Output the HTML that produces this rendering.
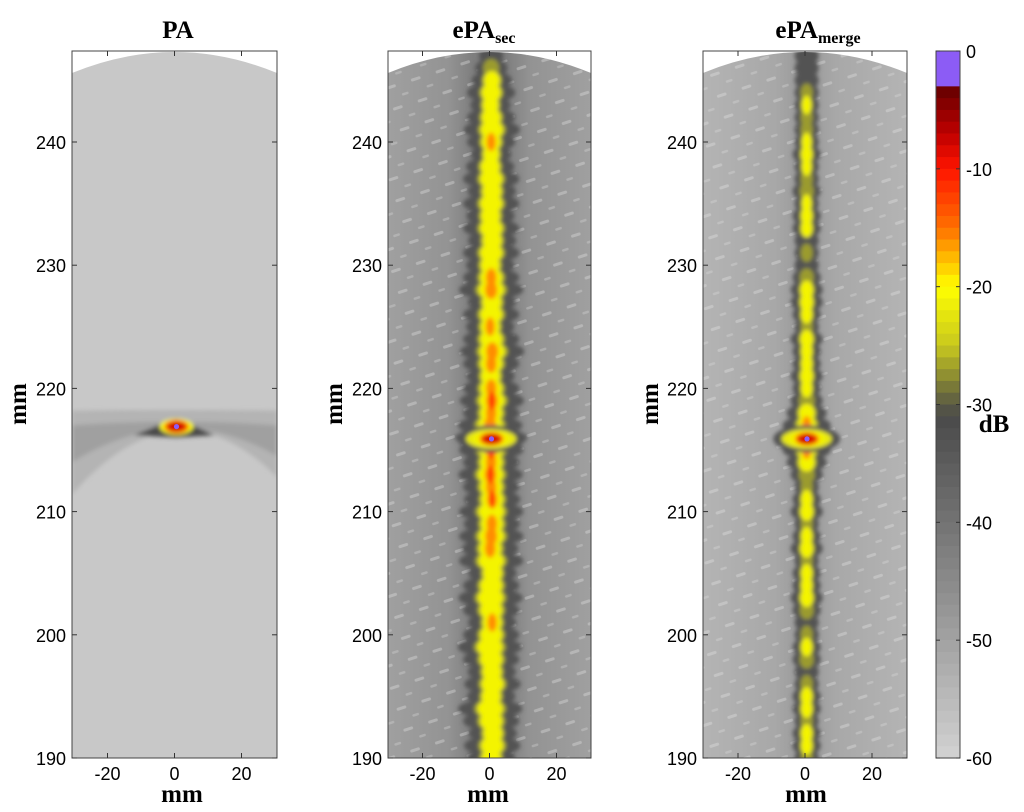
<!DOCTYPE html>
<html><head><meta charset="utf-8"><style>
html,body{margin:0;padding:0;background:#fff;}
svg{display:block;}
.tk{font-family:"Liberation Sans",sans-serif;font-size:18px;fill:#000;}
.ttl{font-family:"Liberation Serif",serif;font-weight:bold;font-size:25px;fill:#000;}
</style></head><body>
<svg id="fig" width="1024" height="812" viewBox="0 0 1024 812" xmlns="http://www.w3.org/2000/svg">
<defs>
<filter id="soft" x="-20%" y="-20%" width="140%" height="140%"><feGaussianBlur stdDeviation="2"/></filter>
<linearGradient id="bg2" x1="0" x2="1" y1="0" y2="0">
<stop offset="0" stop-color="#a0a0a0"/><stop offset="0.3" stop-color="#939393"/><stop offset="0.42" stop-color="#7e7e7e"/><stop offset="0.58" stop-color="#7e7e7e"/><stop offset="0.7" stop-color="#939393"/><stop offset="1" stop-color="#a0a0a0"/></linearGradient>
<linearGradient id="bg3" x1="0" x2="1" y1="0" y2="0">
<stop offset="0" stop-color="#b4b4b4"/><stop offset="0.35" stop-color="#a8a8a8"/><stop offset="0.5" stop-color="#989898"/><stop offset="0.65" stop-color="#a8a8a8"/><stop offset="1" stop-color="#b4b4b4"/></linearGradient>
<pattern id="streak" width="26" height="22" patternUnits="userSpaceOnUse" patternTransform="rotate(-18)">
<rect x="2" y="4" width="10" height="3" rx="1.5" fill="#e4e4e4" opacity="0.35"/>
<rect x="15" y="15" width="7" height="2.5" rx="1.2" fill="#e4e4e4" opacity="0.3"/>
</pattern>
</defs>
<g id="panels"></g>
<g id="cbar"></g>
<text class="ttl" x="178" y="38" text-anchor="middle">PA</text>
<text class="ttl" x="484" y="38" text-anchor="middle">ePA<tspan font-size="16" dy="5">sec</tspan></text>
<text class="ttl" x="818" y="38" text-anchor="middle">ePA<tspan font-size="16" dy="5">merge</tspan></text>
<text class="ttl" x="182" y="802" text-anchor="middle" font-size="27">mm</text>
<text class="ttl" x="488" y="802" text-anchor="middle" font-size="27">mm</text>
<text class="ttl" x="806" y="802" text-anchor="middle" font-size="27">mm</text>
<text class="ttl" font-size="27" transform="translate(26,404) rotate(-90)" text-anchor="middle">mm</text>
<text class="ttl" font-size="27" transform="translate(342,404) rotate(-90)" text-anchor="middle">mm</text>
<text class="ttl" font-size="27" transform="translate(658,404) rotate(-90)" text-anchor="middle">mm</text>
<text class="ttl" x="994" y="432" text-anchor="middle" font-weight="normal" font-size="24">dB</text>
</svg>
<script>
const rowsMM=[190,191,192,193,194,195,196,197,198,199,200,201,202,203,204,205,206,207,208,209,210,211,212,213,214,215,216,217,218,219,220,221,222,223,224,225,226,227,228,229,230,231,232,233,234,235,236,237,238,239,240,241,242,243,244,245,246,247];
const secPeak=[-20,-18,-21,-19,-17,-20,-18,-19,-17,-20,-18,-16,-19,-18,-17,-19,-17,-15,-16,-14,-17,-13,-15,-13,-14,-12,-5,-14,-16,-13,-15,-17,-14,-16,-18,-15,-17,-19,-15,-14,-17,-19,-17,-19,-18,-20,-17,-19,-18,-20,-16,-19,-17,-20,-19,-21,-25,-30];
const secWidth=[6,7,6,7,8,6,7,6,7,8,7,6,7,8,7,6,8,7,8,7,8,7,7,8,7,8,9,8,7,8,7,6,7,8,7,6,7,6,8,7,6,7,6,7,6,7,6,7,6,5,6,7,6,5,6,5,4,3];
const secOffset=[0,0.3,0.5,0,-0.3,0,0.4,0.2,0,-0.4,0,0.3,0,-0.2,0,0.4,0,-0.3,0,0.2,0,0.3,0,-0.2,0,0,0,-0.3,0,0.2,0,-0.2,0,0.3,0,-0.3,0,0.2,0,0,-0.3,0,0.3,0,-0.2,0,0.2,0,-0.3,0,0,0.2,0,-0.2,0,0.2,0,0];
const mergePeak=[-28,-22,-21,-24,-22,-21,-26,-30,-24,-22,-27,-30,-24,-21,-23,-22,-25,-21,-22,-24,-21,-23,-26,-24,-20,-16,-5,-16,-20,-24,-22,-21,-23,-22,-21,-26,-22,-21,-20,-24,-30,-28,-30,-23,-22,-21,-24,-27,-23,-22,-21,-24,-28,-23,-24,-30,-32,-34];
const mergeWidth=[3,3.5,3.5,3,3.5,3.5,3,3,3.5,3.5,3,3,3.5,4,3.5,3.5,3,4,3.5,3,4,3.5,3,4,5,6,7,6,5,4,3.5,4,3.5,3.5,4,3,3.5,4,4,3.5,3,3,3,3.5,3.5,3,3.5,3,3,3.5,3,3,3,3,3,3,3,3];
const yTicks=[190,200,210,220,230,240];
const xTicks=[-20,0,20];
const cbTicks=[0,-10,-20,-30,-40,-50,-60];
const spotMM=[216.9,215.9,215.9];

const NS='http://www.w3.org/2000/svg';
const P=[{x0:72,x1:277},{x0:388,x1:591},{x0:703,x1:907}];
const Y0=758,PXMM=12.32,XMM=3.35,TOP=51;
function ym(v){return Y0-(v-190)*PXMM;}
function xm(p,v){return (p.x0+p.x1)/2+v*XMM;}
function el(t,a,par){const e=document.createElementNS(NS,t);for(const k in a)e.setAttribute(k,a[k]);par.appendChild(e);return e;}
const stops=[[0,[140,92,245]],[-3,[140,92,245]],[-3.5,[110,0,0]],[-7,[190,0,0]],[-10,[255,20,0]],[-15,[255,112,0]],[-20,[255,255,0]],[-25,[200,200,30]],[-29,[110,110,60]],[-31,[74,74,74]],[-45,[138,138,138]],[-60,[210,210,210]]];
function cmap(d){d=Math.max(-60,Math.min(0,d));for(let i=0;i<stops.length-1;i++){const a=stops[i],b=stops[i+1];if(d<=a[0]&&d>=b[0]){const t=(a[0]-d)/(a[0]-b[0]||1);const c=a[1].map((v,j)=>Math.round(v+(b[1][j]-v)*t));return `rgb(${c})`;}}return 'rgb(210,210,210)';}

const root=document.getElementById('panels');
P.forEach((p,i)=>{
  const g=el('g',{},root);
  
  
  const cid='clip'+i;
  const cp=el('clipPath',{id:cid},g);
  el('rect',{x:p.x0,y:TOP,width:p.x1-p.x0,height:Y0-TOP},cp);
  const inner=el('g',{'clip-path':`url(#${cid})`},g);
  const bgc=i===0?'#c8c8c8':(i===1?'url(#bg2)':'url(#bg3)');
  const bg=el('rect',{x:p.x0,y:TOP,width:p.x1-p.x0,height:Y0-TOP,fill:bgc},inner);
  
  
  if(i>0){el('rect',{x:p.x0,y:TOP,width:p.x1-p.x0,height:Y0-TOP,fill:'url(#streak)'},inner);}
  const blobs=el('g',{filter:'url(#soft)'},inner);
  if(i===0){
    const L=p.x0,R=p.x1,c=xm(p,0.5);
    el('path',{d:`M${L},${ym(218.2)} Q${c},${ym(218.3)} ${R},${ym(218.2)} L${R},${ym(212.8)} Q${c},${ym(221)} ${L},${ym(211.4)} Z`,fill:'#b4b4b4'},blobs);
    el('path',{d:`M${L},${ym(217.0)} Q${c},${ym(217.6)} ${R},${ym(217.0)} L${R},${ym(214.5)} Q${c},${ym(219.2)} ${L},${ym(214.0)} Z`,fill:'#a0a0a0'},blobs);
    el('path',{d:`M${xm(p,-12)},${ym(216.2)} L${c},${ym(217.6)} L${xm(p,12)},${ym(216.2)} L${c},${ym(216.0)} Z`,fill:'#4a4a4a'},blobs);
  } else {
    const pk=i===1?secPeak:mergePeak, wd=i===1?secWidth:mergeWidth;
    const n=Math.min(rowsMM.length,pk.length,wd.length);
    const layers=[[-33,2.4,-99],[-27,1.2,-29],[-21,0.95,-24],[-16,0.45,-17],[-11,0.2,-13.5]];
    layers.forEach(L=>{
      for(let k=0;k<n;k++){
        if(pk[k]<=L[2])continue;
        const off=i===1?(secOffset[k]||0):0;
        const e=el('ellipse',{cx:xm(p,off+0.5),cy:ym(rowsMM[k]),rx:wd[k]*L[1]*XMM/2,ry:PXMM*0.75,fill:cmap(L[0])},blobs);
        
        
      }
    });
    const ay=ym(spotMM[i]);
    el('ellipse',{cx:xm(p,0.5),cy:ay,rx:10*XMM,ry:PXMM*1.1,fill:cmap(-33)},blobs);
    el('ellipse',{cx:xm(p,0.5),cy:ay,rx:7.5*XMM,ry:PXMM*0.8,fill:cmap(-22)},blobs);
  }
  const sy=ym(spotMM[i]),sx=xm(p,0.6);
  el('ellipse',{cx:sx,cy:sy,rx:17,ry:8,fill:cmap(-21)},blobs);
  el('ellipse',{cx:sx,cy:sy,rx:12,ry:6.5,fill:cmap(-14)},blobs);
  el('ellipse',{cx:sx,cy:sy,rx:9,ry:5,fill:cmap(-8)},blobs);
  const dot=el('circle',{cx:sx,cy:sy,r:2.6,fill:cmap(0)},inner);
  
  
  const cx=(p.x0+p.x1)/2;
  el('path',{d:`M${p.x0},${TOP-1} L${p.x1},${TOP-1} L${p.x1},${TOP+22} Q${cx},${TOP-20} ${p.x0},${TOP+22} Z`,fill:'#fff'},inner);
  const fr=el('rect',{x:p.x0,y:TOP,width:p.x1-p.x0,height:Y0-TOP,fill:'none',stroke:'#444','stroke-width':1},g);
  
  
  yTicks.forEach(v=>{
    const y=ym(v);
    el('line',{x1:p.x0,x2:p.x0+5,y1:y,y2:y,stroke:'#333'},g);
    el('line',{x1:p.x1,x2:p.x1-5,y1:y,y2:y,stroke:'#333'},g);
    const t=el('text',{x:p.x0-6,y:y+7,'text-anchor':'end',class:'tk'},g);
    t.textContent=v;
    
    
  });
  xTicks.forEach(v=>{
    const x=xm(p,v);
    el('line',{x1:x,x2:x,y1:Y0,y2:Y0-5,stroke:'#333'},g);
    el('line',{x1:x,x2:x,y1:TOP,y2:TOP+5,stroke:'#333'},g);
    const t=el('text',{x:x,y:Y0+22,'text-anchor':'middle',class:'tk'},g);
    t.textContent=v;
    
    
  });
});
const cb=document.getElementById('cbar');


const CX0=936,CX1=960,CT=51,CB=758;
function cy(d){return CT+(-d)/60*(CB-CT);}
for(let d=0;d>-60;d--){
  const r=el('rect',{x:CX0,y:cy(d),width:CX1-CX0,height:cy(d-1)-cy(d)+0.6,fill:cmap(d-0.5)},cb);
  
  
}
el('rect',{x:CX0,y:CT,width:CX1-CX0,height:CB-CT,fill:'none',stroke:'#444'},cb);
cbTicks.forEach(v=>{
  const y=cy(v);
  el('line',{x1:CX0,x2:CX0+4,y1:y,y2:y,stroke:'#333'},cb);
  el('line',{x1:CX1,x2:CX1-4,y1:y,y2:y,stroke:'#333'},cb);
  const t=el('text',{x:CX1+6,y:y+7,class:'tk'},cb);
  t.textContent=v;
  
  
});
</script>
</body></html>
